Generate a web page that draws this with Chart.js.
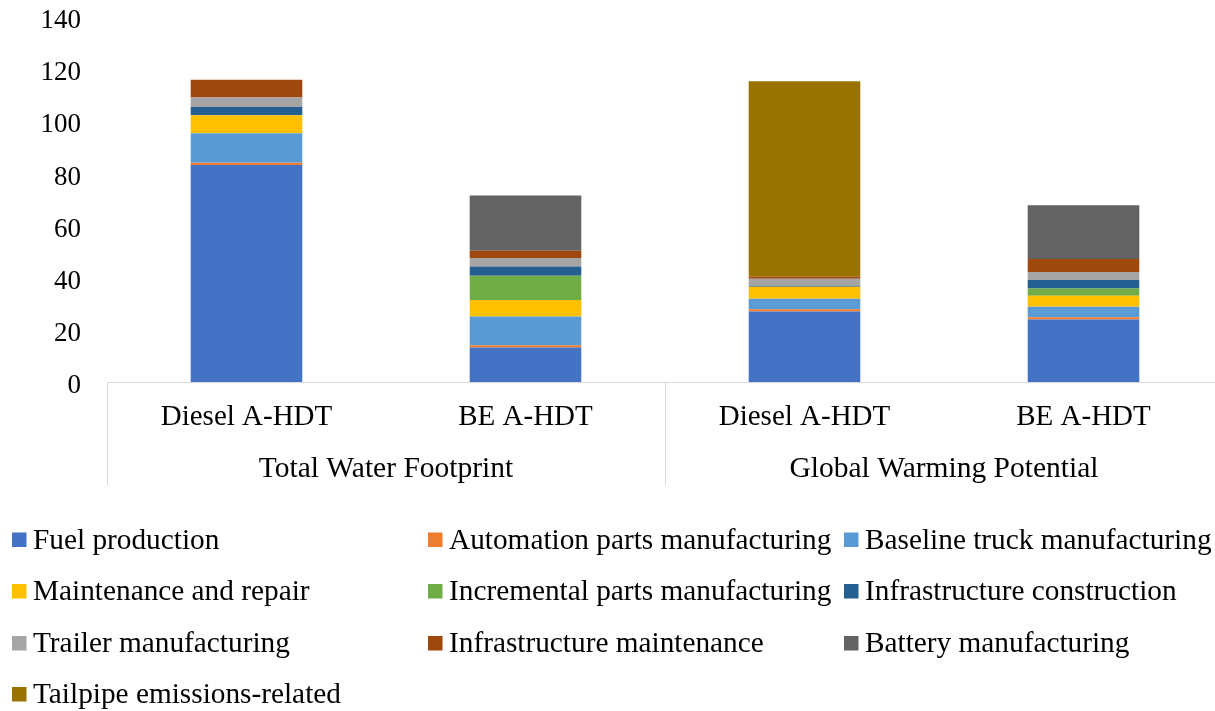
<!DOCTYPE html>
<html>
<head>
<meta charset="utf-8">
<script src="https://cdn.jsdelivr.net/npm/chart.js@4.4.1/dist/chart.umd.min.js"></script>
<style>
  html, body { margin: 0; padding: 0; background: #fff; overflow: hidden; }
  #wrap { width: 1215px; height: 711px; overflow: hidden; position: relative; }
  #chart { position: absolute; left: 0; top: 0; }
</style>
</head>
<body>
<div id="wrap"><canvas id="chart" width="1225" height="711"></canvas></div>
<script>
const categories = ["Diesel A-HDT", "BE A-HDT", "Diesel A-HDT", "BE A-HDT"];
const groups = ["Total Water Footprint", "Global Warming Potential"];
const yTicks = [0, 20, 40, 60, 80, 100, 120, 140];

const seriesNames = [
  "Fuel production", "Automation parts manufacturing", "Baseline truck manufacturing",
  "Maintenance and repair", "Incremental parts manufacturing", "Infrastructure construction",
  "Trailer manufacturing", "Infrastructure maintenance", "Battery manufacturing",
  "Tailpipe emissions-related"
];
const fuelProduction   = [83.2, 13.2, 27.0, 24.0];
const automationParts  = [0.9, 0.9, 0.9, 0.8];
const baselineTruck    = [11.3, 11.0, 4.0, 4.1];
const maintenance      = [6.9, 6.4, 4.6, 4.2];
const incrementalParts = [0, 9.3, 0, 2.8];
const infraConstruct   = [3.2, 3.5, 0.4, 3.2];
const trailer          = [3.6, 3.3, 2.7, 3.1];
const infraMaintain    = [6.8, 2.7, 0.9, 5.0];
const battery          = [0, 21.2, 0, 20.6];
const tailpipe         = [0, 0, 74.9, 0];

const seriesValues = [fuelProduction, automationParts, baselineTruck, maintenance, incrementalParts,
  infraConstruct, trailer, infraMaintain, battery, tailpipe];
const colors = ["#4472C4", "#ED7D31", "#5B9BD5", "#FFC000", "#70AD47",
  "#255E91", "#A5A5A5", "#9E480E", "#636363", "#997300"];

const serif = "'Liberation Serif', 'Times New Roman', serif";

// group labels + separator lines under the category axis
const groupAxis = {
  id: "groupAxis",
  afterDraw(chart) {
    const ctx = chart.ctx;
    const x = chart.scales.x;
    const area = chart.chartArea;
    const step = (area.right - area.left) / categories.length;
    ctx.save();
    ctx.strokeStyle = "#D9D9D9";
    ctx.lineWidth = 1;
    for (let i = 0; i <= groups.length; i++) {
      const px = Math.round(area.left + i * step * 2) + 0.5;
      ctx.beginPath();
      ctx.moveTo(px, area.bottom);
      ctx.lineTo(px, area.bottom + 103);
      ctx.stroke();
    }
    ctx.fillStyle = "#000";
    ctx.font = "29.5px " + serif;
    ctx.textAlign = "center";
    ctx.textBaseline = "alphabetic";
    groups.forEach((g, i) => {
      const cx = (x.getPixelForValue(i * 2) + x.getPixelForValue(i * 2 + 1)) / 2;
      ctx.fillText(g, cx, area.bottom + 95);
    });
    ctx.restore();
  }
};

// three column legend at the bottom
const gridLegend = {
  id: "gridLegend",
  afterDraw(chart) {
    const ctx = chart.ctx;
    const colX = [12, 428, 844];
    const rowY = [539.5, 591, 643, 694];
    ctx.save();
    ctx.font = "29.3px " + serif;
    ctx.textAlign = "left";
    ctx.textBaseline = "alphabetic";
    seriesNames.forEach((name, i) => {
      const cx = colX[i % 3];
      const cy = rowY[Math.floor(i / 3)];
      ctx.fillStyle = colors[i];
      ctx.fillRect(cx, cy - 7, 14.5, 14.5);
      ctx.fillStyle = "#000";
      ctx.fillText(name, cx + 21, cy + 9);
    });
    ctx.restore();
  }
};

new Chart(document.getElementById("chart"), {
  type: "bar",
  data: {
    labels: categories,
    datasets: seriesNames.map((name, i) => ({
      label: name,
      data: seriesValues[i],
      backgroundColor: colors[i],
      borderWidth: 0,
      barPercentage: 0.4,
      categoryPercentage: 1
    }))
  },
  options: {
    responsive: false,
    animation: false,
    layout: { padding: { top: 17, right: 2, bottom: 226, left: 0 } },
    plugins: { legend: { display: false }, tooltip: { enabled: false } },
    scales: {
      x: {
        stacked: true,
        grid: { display: false, drawTicks: false },
        border: { display: true, color: "#D9D9D9", width: 1 },
        ticks: { color: "#000", font: { family: serif, size: 29 }, padding: 18, maxRotation: 0 },
        afterFit(scale) { scale.height = 103; scale.paddingLeft = 0; scale.paddingRight = 0; }
      },
      y: {
        stacked: true,
        min: 0,
        max: 140,
        afterBuildTicks(scale) { scale.ticks = yTicks.map(v => ({ value: v })); },
        grid: { display: false, drawTicks: false },
        border: { display: false },
        ticks: { color: "#000", font: { family: serif, size: 27 }, padding: 26, labelOffset: 4 },
        afterFit(scale) { scale.width = 107; scale.paddingTop = 0; scale.paddingBottom = 0; }
      }
    }
  },
  plugins: [groupAxis, gridLegend]
});
</script>
</body>
</html>
